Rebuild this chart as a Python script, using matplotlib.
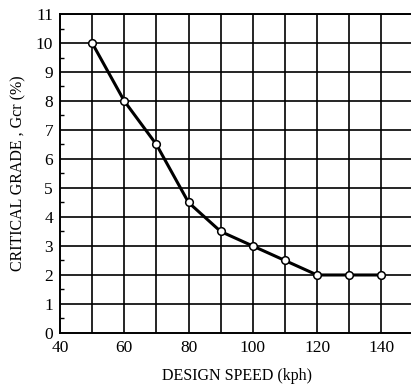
import numpy as np
import matplotlib
matplotlib.use('Agg')
import matplotlib.pyplot as plt

speed = [50, 60, 70, 80, 90, 100, 110, 120, 130, 140]
grade = [10, 8, 6.5, 4.5, 3.5, 3, 2.5, 2, 2, 2]

x_ticks = [40, 60, 80, 100, 120, 140]
y_ticks = list(range(0, 12))

plt.rcParams['font.family'] = ['Liberation Serif']

fig = plt.figure(figsize=(4.11, 3.89), dpi=100)
ax = fig.add_axes([0.146, 0.144, 0.86, 0.820])

# grid every 10 kph and every 1 %
for gx in range(50, 141, 10):
    ax.axvline(gx, color='black', lw=1.2, zorder=1)
for gy in range(1, 12):
    ax.axhline(gy, color='black', lw=1.2, zorder=1)

ax.plot(speed, grade, color='black', lw=2.2, marker='o', markersize=5.5,
        markerfacecolor='white', markeredgecolor='black', markeredgewidth=1.1,
        zorder=3)

ax.set_xlim(40, 150)
ax.set_ylim(0, 11)
ax.set_xticks(x_ticks)
ax.set_yticks(y_ticks)
ax.set_yticks(np.arange(0.5, 11, 1), minor=True)
ax.tick_params(axis='both', which='major', length=0, labelsize=12.5, pad=5)
ax.tick_params(axis='y', which='minor', direction='in', length=3, width=1)
ax.tick_params(axis='x', which='minor', length=0)

for s in ax.spines.values():
    s.set_linewidth(1.4)
ax.spines['right'].set_visible(False)

ax.set_xlabel('DESIGN SPEED (kph)', fontsize=11.5, labelpad=9)
ax.set_ylabel('CRITICAL GRADE , Gcr (%)', fontsize=11.5, labelpad=7)

fig.savefig('out.png', dpi=100)
